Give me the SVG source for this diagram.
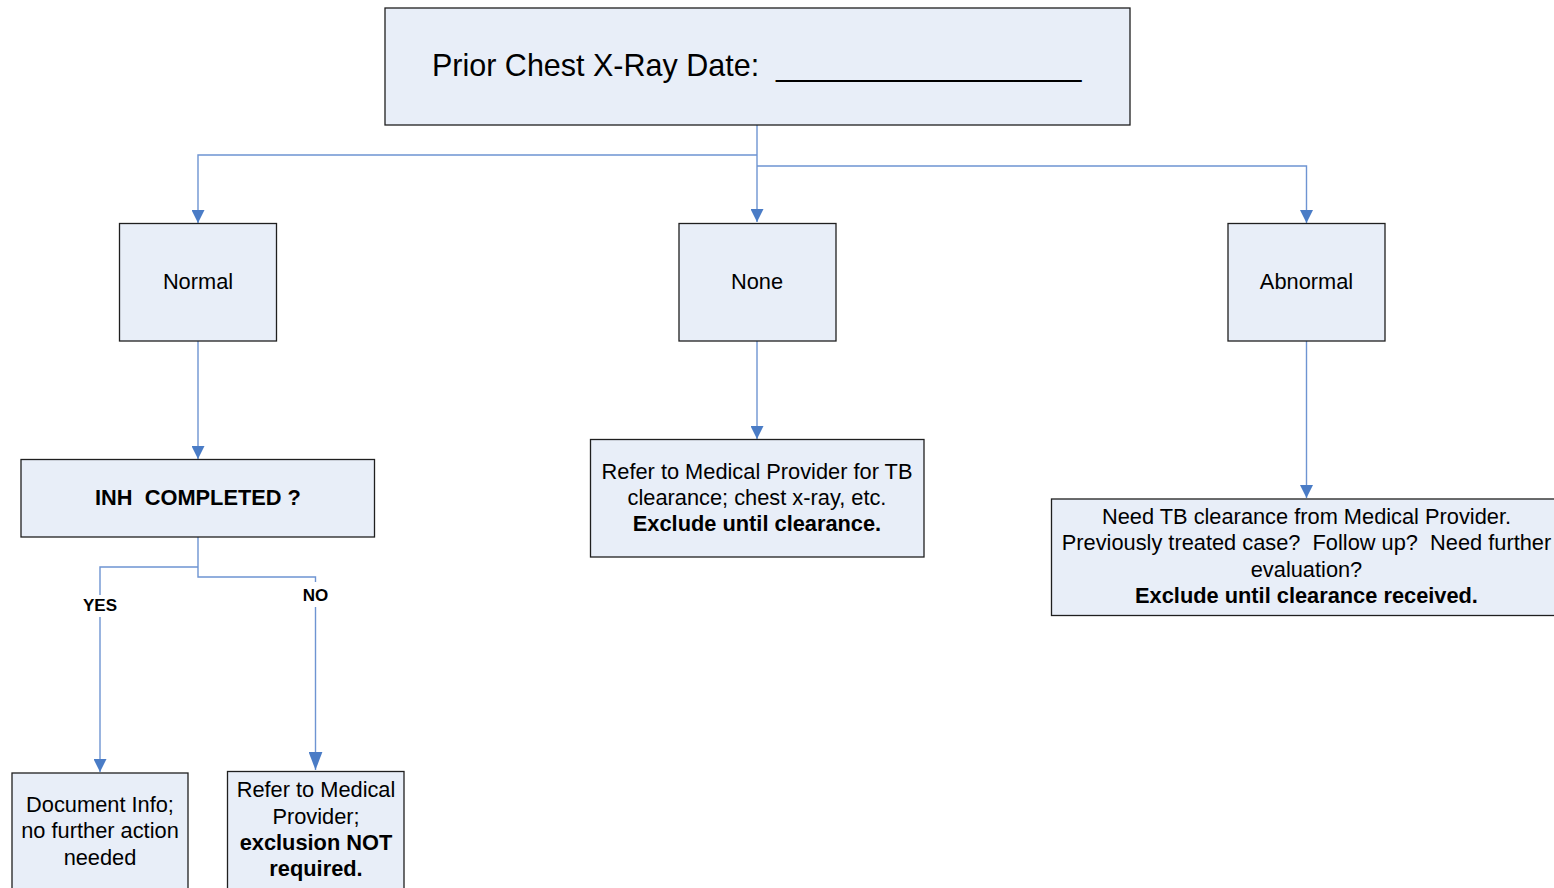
<svg xmlns="http://www.w3.org/2000/svg" width="1554" height="888" viewBox="0 0 1554 888">
<style>
.box{fill:#E8EEF8;stroke:#1F1F1F;stroke-width:1.3}
.t{font-family:"Liberation Sans",Arial,sans-serif;font-size:21.8px;fill:#000;text-anchor:middle;white-space:pre}
.b{font-weight:bold}
.lbl{font-family:"Liberation Sans",Arial,sans-serif;font-size:17px;font-weight:bold;fill:#000;text-anchor:middle}
.ttl{font-family:"Liberation Sans",Arial,sans-serif;font-size:30.5px;fill:#000;white-space:pre}
.c{fill:none;stroke:#6E94D2;stroke-width:1.4}
</style>
<defs>
<marker id="ah" markerUnits="userSpaceOnUse" markerWidth="13" markerHeight="13" refX="12" refY="6" orient="auto" viewBox="0 0 12 12">
<path d="M0,0 L12,6 L0,12 z" fill="#4A7CC6"/>
</marker>
<marker id="ahL" markerUnits="userSpaceOnUse" markerWidth="18" markerHeight="14" refX="17" refY="6.5" orient="auto" viewBox="0 0 17 13">
<path d="M0,0 L17,6.5 L0,13 z" fill="#4A7CC6"/>
</marker>
</defs>
<rect width="1554" height="888" fill="#fff"/>
<g id="connectors">
<path class="c" d="M757,125 V222" marker-end="url(#ah)"/>
<path class="c" d="M757,155 H198 V223" marker-end="url(#ah)"/>
<path class="c" d="M757,166 H1306.5 V223" marker-end="url(#ah)"/>
<path class="c" d="M198,341 V459" marker-end="url(#ah)"/>
<path class="c" d="M757,341 V439" marker-end="url(#ah)"/>
<path class="c" d="M1306.5,341 V498" marker-end="url(#ah)"/>
<path class="c" d="M198,537 V577 H315.5 V582"/>
<path class="c" d="M198,567 H100 V595"/>
<path class="c" d="M100,617 V772" marker-end="url(#ah)"/>
<path class="c" d="M315.5,607 V770" marker-end="url(#ahL)"/>
<text class="lbl" x="100" y="610.5">YES</text>
<text class="lbl" x="315.5" y="600.5">NO</text>
</g>
<g id="top">
<rect class="box" x="385" y="8" width="745" height="117"/>
<text class="ttl" x="432" y="76">Prior Chest X-Ray Date:  __________________</text>
</g>
<g id="normal">
<rect class="box" x="119.5" y="223.5" width="157" height="117.5"/>
<text class="t" x="198" y="289">Normal</text>
</g>
<g id="none">
<rect class="box" x="679" y="223.5" width="157" height="117.5"/>
<text class="t" x="757" y="289">None</text>
</g>
<g id="abnormal">
<rect class="box" x="1228" y="223.5" width="157" height="117.5"/>
<text class="t" x="1306.5" y="289">Abnormal</text>
</g>
<g id="inh">
<rect class="box" x="21" y="459.5" width="353.5" height="77.5"/>
<text class="t b" x="198" y="505">INH  COMPLETED ?</text>
</g>
<g id="refer-tb">
<rect class="box" x="590.5" y="439.5" width="333.5" height="117.5"/>
<text class="t" x="757" y="478.5">Refer to Medical Provider for TB</text>
<text class="t" x="757" y="505">clearance; chest x-ray, etc.</text>
<text class="t b" x="757" y="531">Exclude until clearance.</text>
</g>
<g id="need-tb">
<rect class="box" x="1051.5" y="499" width="510" height="116.5"/>
<text class="t" x="1306.5" y="523.5">Need TB clearance from Medical Provider.</text>
<text class="t" x="1306.5" y="550">Previously treated case?  Follow up?  Need further</text>
<text class="t" x="1306.5" y="576.5">evaluation?</text>
<text class="t b" x="1306.5" y="603">Exclude until clearance received.</text>
</g>
<g id="document">
<rect class="box" x="12" y="773" width="176" height="130"/>
<text class="t" x="100" y="811.5">Document Info;</text>
<text class="t" x="100" y="838">no further action</text>
<text class="t" x="100" y="864.5">needed</text>
</g>
<g id="refer-medical">
<rect class="box" x="227.5" y="771.5" width="176.5" height="130"/>
<text class="t" x="316" y="797">Refer to Medical</text>
<text class="t" x="316" y="823.5">Provider;</text>
<text class="t b" x="316" y="850">exclusion NOT</text>
<text class="t b" x="316" y="876">required.</text>
</g>
</svg>
